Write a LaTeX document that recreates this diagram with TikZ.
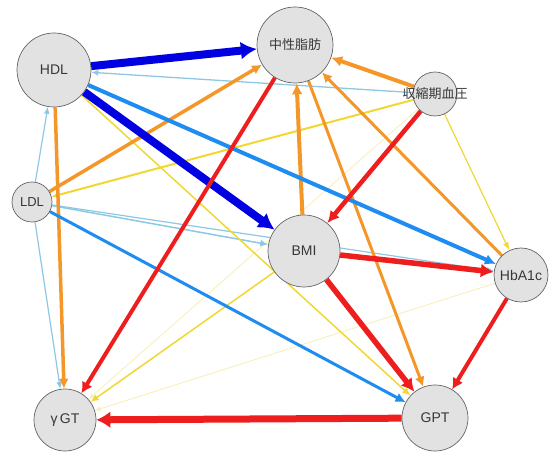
\documentclass[tikz,border=0pt]{standalone}
\usepackage{fontspec}
\setmainfont{Liberation Sans}
\newfontfamily\jp{Noto Sans CJK JP}
\usetikzlibrary{arrows.meta,backgrounds}
\definecolor{dblue}{RGB}{0,0,225}
\definecolor{mblue}{RGB}{30,140,240}
\definecolor{lblue}{RGB}{140,200,228}
\definecolor{corange}{RGB}{245,150,40}
\definecolor{cred}{RGB}{238,30,30}
\definecolor{cyellow}{RGB}{240,215,50}
\definecolor{fyellow}{RGB}{248,238,180}
\definecolor{nodefill}{RGB}{226,226,226}
\definecolor{nodeline}{RGB}{100,100,100}
\definecolor{nodetext}{RGB}{55,55,55}
\begin{document}
\begin{tikzpicture}[x=1pt,y=-1pt,
  vnode/.style={circle,draw=nodeline,line width=0.7pt,fill=nodefill,inner sep=0pt,
    text=nodetext,font=\fontsize{14}{14}\selectfont},
  jpfont/.style={font=\jp\fontsize{13}{13}\selectfont},
  ed/.style n args={4}{draw=#1,line width=#2,-{Latex[length=#3,width=#4]}}]
\useasboundingbox (0,0) rectangle (555,454);
\node[vnode,minimum size=74pt] (HDL) at (54,70) {HDL};
\node[vnode,jpfont,minimum size=76pt] (TG) at (295,45) {中性脂肪};
\node[vnode,jpfont,minimum size=44pt] (BP) at (435,94) {\makebox[0pt]{収縮期血圧}};
\node[vnode,minimum size=40pt,font=\fontsize{13}{13}\selectfont] (LDL) at (32,202) {LDL};
\node[vnode,minimum size=72pt] (BMI) at (304,251) {BMI};
\node[vnode,minimum size=54pt] (HbA) at (521,275) {HbA1c};
\node[vnode,minimum size=62pt] (GGT) at (65,420) {γ\,GT};
\node[vnode,minimum size=66pt] (GPT) at (435,418) {GPT};
\begin{scope}[on background layer]
  % faint yellow
  \draw[ed={fyellow}{0.8pt}{6pt}{5pt}] (BP) -- (GGT);
  \draw[ed={fyellow}{0.8pt}{6pt}{5pt}] (HbA) -- (GGT);
  % light blue
  \draw[ed={lblue}{1.3pt}{7pt}{6pt}] (BP) -- (HDL);
  \draw[ed={lblue}{1.2pt}{7pt}{6pt}] (LDL) -- (HDL);
  \draw[ed={lblue}{1.5pt}{8pt}{7pt}] (LDL) -- (BMI);
  \draw[ed={lblue}{1.2pt}{7pt}{6pt}] (LDL) -- (HbA);
  \draw[ed={lblue}{1.2pt}{7pt}{6pt}] (LDL) -- (GGT);
  % yellow
  \draw[ed={cyellow}{2pt}{8pt}{8pt}] (BP) -- (LDL);
  \draw[ed={cyellow}{1.5pt}{8pt}{7pt}] (HDL) -- (GPT);
  \draw[ed={cyellow}{1.5pt}{8pt}{7pt}] (BMI) -- (GGT);
  \draw[ed={cyellow}{1.2pt}{8pt}{6pt}] (BP) -- (HbA);
  % orange
  \draw[ed={corange}{3.5pt}{10pt}{10pt}] (HDL) -- (GGT);
  \draw[ed={corange}{3.5pt}{10pt}{10pt}] (LDL) -- (TG);
  \draw[ed={corange}{4pt}{11pt}{11pt}] (BMI) -- (TG);
  \draw[ed={corange}{4pt}{11pt}{11pt}] (BP) -- (TG);
  \draw[ed={corange}{3pt}{10pt}{10pt}] (HbA) -- (TG);
  \draw[ed={corange}{3pt}{10pt}{10pt}] (TG) -- (GPT);
  % blue
  \draw[ed={mblue}{4pt}{11pt}{11pt}] (HDL) -- (HbA);
  \draw[ed={mblue}{3pt}{10pt}{10pt}] (LDL) -- (GPT);
  \draw[ed={dblue}{8pt}{16pt}{18pt}] (HDL) -- (TG);
  \draw[ed={dblue}{8pt}{16pt}{18pt}] (HDL) -- (BMI);
  % red
  \draw[ed={cred}{4pt}{11pt}{12pt}] (TG) -- (GGT);
  \draw[ed={cred}{4.5pt}{12pt}{12pt}] (BP) -- (BMI);
  \draw[ed={cred}{5.5pt}{13pt}{14pt}] (BMI) -- (HbA);
  \draw[ed={cred}{5.5pt}{13pt}{14pt}] (BMI) -- (GPT);
  \draw[ed={cred}{4pt}{11pt}{12pt}] (HbA) -- (GPT);
  \draw[ed={cred}{7pt}{14pt}{17pt}] (GPT) -- (GGT);
\end{scope}
\end{tikzpicture}
\end{document}
